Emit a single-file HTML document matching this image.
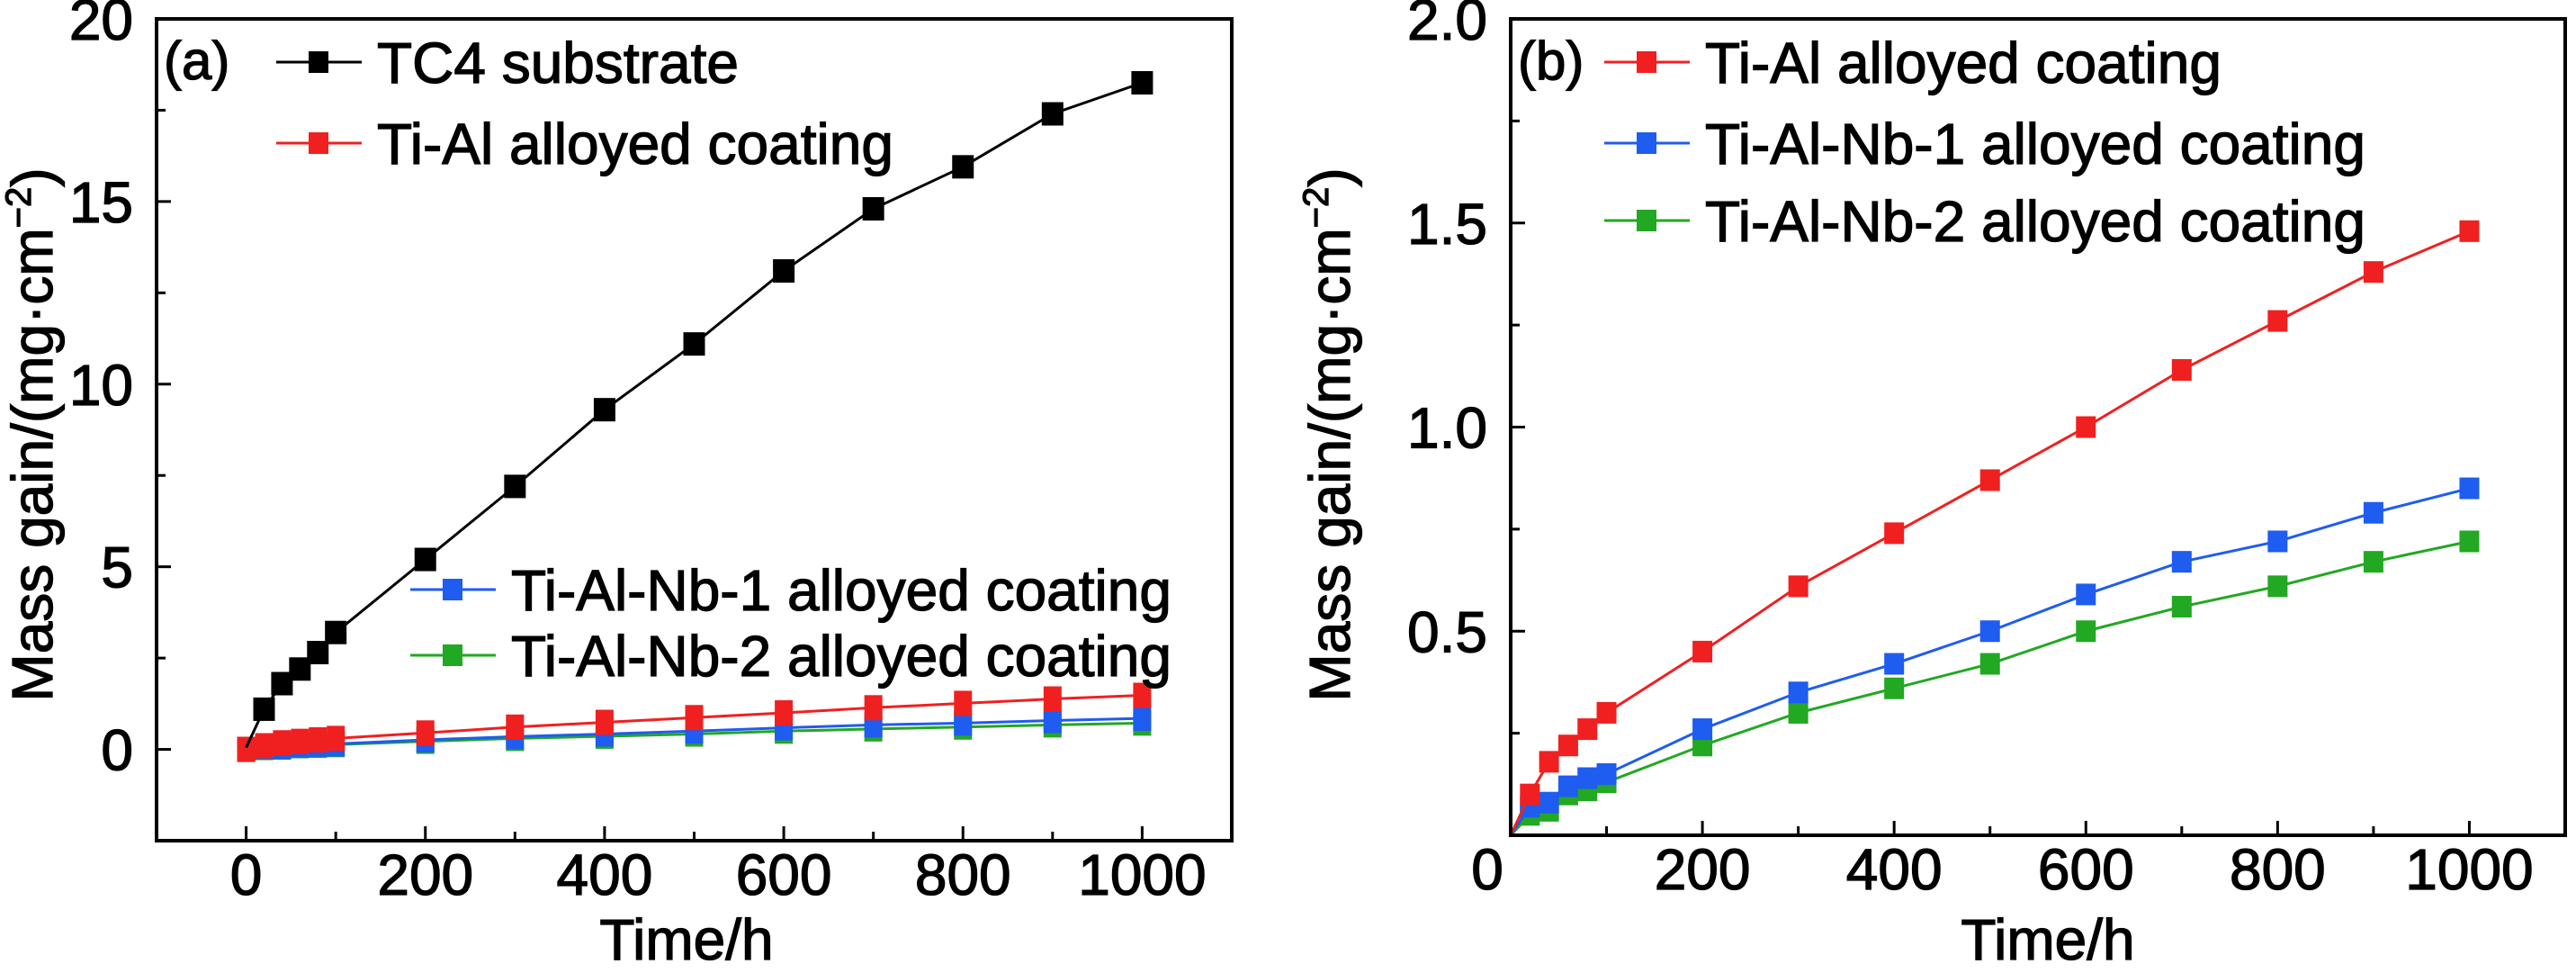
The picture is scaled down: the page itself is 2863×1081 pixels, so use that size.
<!DOCTYPE html>
<html><head><meta charset="utf-8"><style>
html,body{margin:0;padding:0;background:#fff}
svg{display:block}
text{font-family:"Liberation Sans",Arial,sans-serif;fill:#000;stroke:#000;stroke-width:1.3px}
</style></head><body>
<svg id="c" width="2863" height="1081" viewBox="0 0 2863 1081"></svg>
<script>
const timesA = [0,20,40,60,80,100,200,300,400,500,600,700,800,900,1000];
const tc4 = [0.05,1.1,1.8,2.2,2.65,3.2,5.2,7.2,9.3,11.1,13.1,14.8,15.95,17.4,18.25];
const tiAl = [0,0.10,0.18,0.22,0.26,0.30,0.45,0.61,0.74,0.87,1.0,1.14,1.26,1.38,1.48];
const nb1 = [0,0.07,0.08,0.12,0.14,0.15,0.26,0.35,0.42,0.50,0.59,0.67,0.72,0.79,0.85];
const nb2 = [0,0.05,0.06,0.10,0.11,0.13,0.22,0.30,0.36,0.42,0.50,0.56,0.61,0.67,0.72];
const xTicks = [0,200,400,600,800,1000];
const yTicksA = [0,5,10,15,20];
const yTicksB = [0.5,1.0,1.5,2.0];
const yTickLabelsB = ["0.5","1.0","1.5","2.0"];

const NS="http://www.w3.org/2000/svg";
const svg=document.getElementById('c');
function mk(tag,attrs,parent){const e=document.createElementNS(NS,tag);for(const k in attrs)e.setAttribute(k,attrs[k]);(parent||svg).appendChild(e);return e;}

function panel(cfg){
  const g=mk('g',{});
  
  
  const X=v=>cfg.L+(v-cfg.x0)/(cfg.x1-cfg.x0)*(cfg.R-cfg.L);
  const Y=v=>cfg.B-(v-cfg.y0)/(cfg.y1-cfg.y0)*(cfg.B-cfg.T);
  for(let v=0;v<=1000;v+=100){
    const major=v%200===0;
    const t=mk('line',{x1:X(v),x2:X(v),y1:cfg.B,y2:cfg.B-(major?16:10),stroke:'#000','stroke-width':3},g);
    
    
  }
  xTicks.forEach(v=>{
    const t=mk('text',{x:X(v)+(v===0&&cfg.zeroShift?cfg.zeroShift:0),y:cfg.B+60,'font-size':64,'text-anchor':'middle'},g);
    t.textContent=v;
    
    
  });
  cfg.yMinor.forEach(v=>{
    const t=mk('line',{x1:cfg.L,x2:cfg.L+10,y1:Y(v),y2:Y(v),stroke:'#000','stroke-width':3},g);
    
    
  });
  cfg.yT.forEach((v,i)=>{
    const t=mk('line',{x1:cfg.L,x2:cfg.L+16,y1:Y(v),y2:Y(v),stroke:'#000','stroke-width':3},g);
    
    
    const l=mk('text',{x:cfg.L-26,y:Y(v)+23,'font-size':64,'text-anchor':'end'},g);
    l.textContent=cfg.yL[i];
    
    
  });
  cfg.series.forEach(s=>{
    const pts=timesA.map((t,i)=>X(t)+','+Y(s.vals[i])).join(' ');
    const pl=mk('polyline',{points:pts,fill:'none',stroke:s.color,'stroke-width':3},g);
    
    
    timesA.forEach((t,i)=>{
      if(i===0 && s.skip0) return;
      const r=mk('rect',{x:X(t)-s.mw/2,y:Y(s.vals[i])-s.mh/2,width:s.mw,height:s.mh,fill:s.color},g);
      
      
    });
  });
  const f=mk('rect',{x:cfg.L,y:cfg.T,width:cfg.R-cfg.L,height:cfg.B-cfg.T,fill:'none',stroke:'#000','stroke-width':4},g);
  
  
  const tag=mk('text',{x:cfg.L+8,y:88,'font-size':60},g);
  tag.textContent=cfg.tag;
  
  
  const xt=mk('text',{x:cfg.xtX,y:1066,'font-size':64,'text-anchor':'middle'},g);
  xt.textContent='Time/h';
  
  
  const yt=mk('text',{x:0,y:0,'font-size':64,'text-anchor':'middle',transform:`translate(${cfg.ytX},483) rotate(-90)`},g);
  yt.innerHTML='Mass gain/(mg·cm<tspan font-size="40" dy="-24">−2</tspan><tspan dy="24">)</tspan>';
  
  
  cfg.legend.forEach(e=>{
    const lg=mk('g',{},g);
    
    
    mk('line',{x1:e.sx,x2:e.sx+95,y1:e.y,y2:e.y,stroke:e.color,'stroke-width':3},lg);
    mk('rect',{x:e.sx+47-11,y:e.y-12,width:22,height:24,fill:e.color},lg);
    const t=mk('text',{x:e.sx+112,y:e.y+23,'font-size':64},lg);
    t.textContent=e.label;
  });
}

panel({name:'panel-a',L:174,R:1369,T:21,B:934,x0:-100,x1:1100,y0:-2.5,y1:20,
  yT:yTicksA,yL:yTicksA.map(String),yMinor:[-2.5,2.5,7.5,12.5,17.5],tag:'(a)',xtX:763,ytX:58,
  series:[
    {name:'ti-al-nb-2',vals:nb2,color:'#22a822',mw:20,mh:28},
    {name:'ti-al-nb-1',vals:nb1,color:'#1f5cf0',mw:20,mh:28},
    {name:'ti-al',vals:tiAl,color:'#f02020',mw:20,mh:28},
    {name:'tc4',vals:tc4,color:'#000',mw:24,mh:26,skip0:true}
  ],
  legend:[
    {sx:307,y:69,color:'#000',label:'TC4 substrate'},
    {sx:307,y:159,color:'#f02020',label:'Ti-Al alloyed coating'},
    {sx:456,y:655,color:'#1f5cf0',label:'Ti-Al-Nb-1 alloyed coating'},
    {sx:456,y:728,color:'#22a822',label:'Ti-Al-Nb-2 alloyed coating'}
  ]});

panel({name:'panel-b',L:1679,R:2851,T:21,B:928,x0:0,x1:1100,y0:0,y1:2.0,zeroShift:-26,
  yT:yTicksB,yL:yTickLabelsB,yMinor:[0.25,0.75,1.25,1.75],tag:'(b)',xtX:2276,ytX:1500,
  series:[
    {name:'ti-al-nb-2',vals:nb2,color:'#22a822',mw:22,mh:24,skip0:true},
    {name:'ti-al-nb-1',vals:nb1,color:'#1f5cf0',mw:22,mh:24,skip0:true},
    {name:'ti-al',vals:tiAl,color:'#f02020',mw:22,mh:24,skip0:true}
  ],
  legend:[
    {sx:1783,y:69,color:'#f02020',label:'Ti-Al alloyed coating'},
    {sx:1783,y:159,color:'#1f5cf0',label:'Ti-Al-Nb-1 alloyed coating'},
    {sx:1783,y:245,color:'#22a822',label:'Ti-Al-Nb-2 alloyed coating'}
  ]});
</script>
</body></html>
